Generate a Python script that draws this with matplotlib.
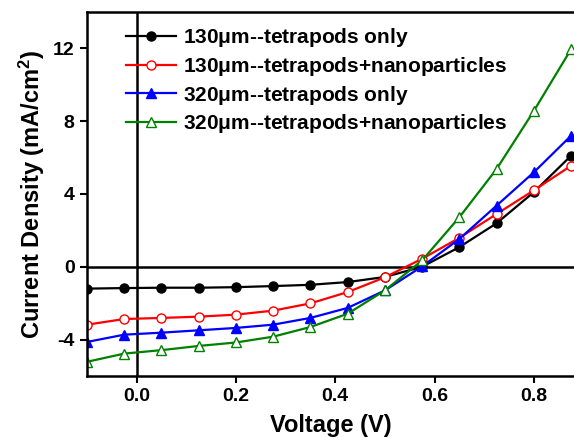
import matplotlib
matplotlib.use("Agg")
import matplotlib.pyplot as plt

plt.rcParams['font.family'] = ['Liberation Sans', 'DejaVu Sans']
plt.rcParams['font.weight'] = 'bold'
plt.rcParams['mathtext.default'] = 'regular'
plt.rcParams['axes.unicode_minus'] = False

# voltage points where the markers sit
voltage = [-0.1, -0.025, 0.05, 0.125, 0.2, 0.275, 0.35, 0.425, 0.5, 0.575, 0.65, 0.725, 0.8, 0.875]

# current density (mA/cm2)
j_130_only = [-1.2, -1.17, -1.15, -1.15, -1.12, -1.06, -0.99, -0.84, -0.56, 0.0, 1.08, 2.39, 4.1, 6.1]
j_130_nano = [-3.18, -2.87, -2.81, -2.74, -2.63, -2.41, -2.01, -1.39, -0.58, 0.44, 1.59, 2.9, 4.2, 5.55]
j_320_only = [-4.13, -3.73, -3.62, -3.49, -3.36, -3.18, -2.81, -2.26, -1.3, 0.02, 1.53, 3.36, 5.19, 7.2]
j_320_nano = [-5.22, -4.77, -4.58, -4.35, -4.16, -3.84, -3.31, -2.58, -1.3, 0.35, 2.72, 5.37, 8.56, 11.95]

labels = [
    '130$\\mu$m--tetrapods only',
    '130$\\mu$m--tetrapods+nanoparticles',
    '320$\\mu$m--tetrapods only',
    '320$\\mu$m--tetrapods+nanoparticles',
]

fig = plt.figure(figsize=(5.74, 4.38), dpi=100)
ax = fig.add_axes([0.1516, 0.1416, 0.8484, 0.831])

ax.axhline(0, color='black', lw=1.8, zorder=1)
ax.axvline(0, color='black', lw=1.8, zorder=1)

ax.plot(voltage, j_130_only, color='black', marker='o', ms=6.5, mfc='black', mec='black', lw=1.6, label=labels[0])
ax.plot(voltage, j_130_nano, color='red', marker='o', ms=6.5, mfc='white', mec='red', lw=1.6, label=labels[1])
ax.plot(voltage, j_320_only, color='blue', marker='^', ms=7, mfc='blue', mec='blue', lw=1.6, label=labels[2])
ax.plot(voltage, j_320_nano, color='green', marker='^', ms=7, mfc='white', mec='green', lw=1.6, label=labels[3])

ax.set_xlim(-0.1, 0.881)
ax.set_ylim(-6, 14)
ax.set_xticks([0.0, 0.2, 0.4, 0.6, 0.8])
ax.set_yticks([-4, 0, 4, 8, 12])
ax.set_xticklabels(['0.0', '0.2', '0.4', '0.6', '0.8'])

for side in ['left', 'bottom', 'top']:
    ax.spines[side].set_linewidth(1.8)
ax.spines['right'].set_visible(False)

ax.tick_params(direction='out', length=5, width=1.5, labelsize=14, pad=4)

ax.set_xlabel('Voltage (V)', fontsize=17, fontweight='bold', labelpad=6)
ax.set_ylabel('Current Density (mA/cm$^2$)', fontsize=17, fontweight='bold', labelpad=4)

leg = ax.legend(loc='upper left', bbox_to_anchor=(0.055, 0.995), frameon=False,
                fontsize=15, handlelength=2.4, handletextpad=0.3, labelspacing=0.27,
                borderaxespad=0.2)

fig.savefig('out.png', dpi=100)
